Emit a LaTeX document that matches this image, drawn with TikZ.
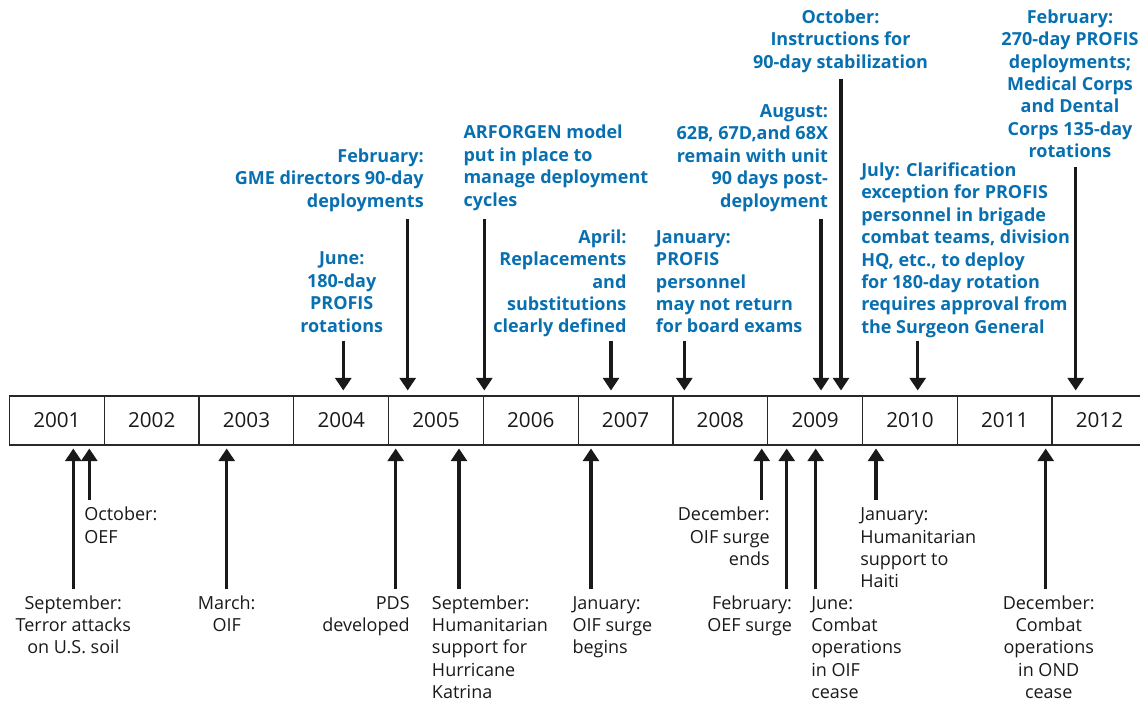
\documentclass[tikz,border=0pt]{standalone}
\usepackage{fontspec}
\setmainfont{Open Sans}
\usetikzlibrary{arrows.meta}
\definecolor{evblue}{RGB}{8,112,176}
\definecolor{barline}{RGB}{40,40,40}
\begin{document}
\begin{tikzpicture}[x=0.75pt,y=-0.75pt,
  cell/.style={draw=barline,line width=0.9pt,minimum width=71.1pt,minimum height=36.75pt,inner sep=0pt,
    font=\fontsize{15.5pt}{18pt}\selectfont,text=black!90},
  evtop/.style={inner sep=0pt,text=evblue,font=\fontsize{13.5pt}{16.8pt}\selectfont\bfseries},
  evbot/.style={inner sep=0pt,text=black!90,font=\fontsize{13.5pt}{16.7pt}\selectfont},
  evarrow/.style={line width=2.3pt,draw=black!90,-{Triangle[width=12pt,length=9.5pt]}}]
\useasboundingbox (0,0) rectangle (1140,702);
% timeline cells
\foreach \i/\yr in {0/2001,1/2002,2/2003,3/2004,4/2005,5/2006,6/2007,7/2008,8/2009,9/2010,10/2011,11/2012}{
  \node[cell] (c\yr) at ({56.9+94.78*\i},420.5) {\yr};
}
% ---------- top events ----------
\node[evtop,anchor=north,align=center] (jun04) at (341.7,248.9) {\strut June:\\180-day\\PROFIS\\rotations};
\node[evtop,anchor=north east,align=right] (feb05) at (424,146.3) {\strut February:\\GME directors 90-day\\deployments};
\node[evtop,anchor=north west,align=left] (arf06) at (463.3,122.9) {\strut ARFORGEN model\\put in place to\\manage deployment\\cycles};
\node[evtop,anchor=north east,align=right] (apr07) at (626.7,227.3) {\strut April:\\Replacements\\and\\substitutions\\clearly defined};
\node[evtop,anchor=north west,align=left] (jan08) at (655.7,227.3) {\strut January:\\PROFIS\\personnel\\may not return\\for board exams};
\node[evtop,anchor=north east,align=right] (aug09) at (828.3,101.6) {\strut August:\\62B, 67D,and 68X\\remain with unit\\90 days post-\\deployment};
\node[evtop,anchor=north,align=center] (oct09) at (840.5,7.3) {\strut October:\\Instructions for\\90-day stabilization};
\node[evtop,anchor=north west,align=left] (jul10) at (861,160.6) {\strut July: Clarification\\exception for PROFIS\\personnel in brigade\\combat teams, division\\HQ, etc., to deploy\\for 180-day rotation\\requires approval from\\the Surgeon General};
\node[evtop,anchor=north,align=center] (feb12) at (1070,7.3) {\strut February:\\270-day PROFIS\\deployments;\\Medical Corps\\and Dental\\Corps 135-day\\rotations};
% top arrow coordinates
\foreach \n/\x/\t in {jun04/343.3/340.7, feb05/407.7/219, arf06/484.3/219, apr07/611/340.7, jan08/684.3/340.7, aug09/821/219, oct09/841/79, jul10/917.7/340.7, feb12/1075.7/167.3}{
  \coordinate (\n s) at (\x,\t);
  \coordinate (\n e) at (\x,390.5);
}
\foreach \n in {jun04,feb05,arf06,apr07,jan08,aug09,oct09,jul10,feb12}{
  \draw[evarrow] (\n s) -- (\n e);
}
% ---------- bottom events ----------
\node[evbot,anchor=north,align=center] (sep01) at (73.3,593.4) {\strut September:\\Terror attacks\\on U.S. soil};
\node[evbot,anchor=north west,align=left] (oct01) at (84,504.9) {\strut October:\\OEF};
\node[evbot,anchor=north,align=center] (mar03) at (226.7,593.4) {\strut March:\\OIF};
\node[evbot,anchor=north east,align=right] (pds05) at (410,593.4) {\strut PDS\\developed};
\node[evbot,anchor=north west,align=left] (sep05) at (431.7,593.4) {\strut September:\\Humanitarian\\support for\\Hurricane\\Katrina};
\node[evbot,anchor=north west,align=left] (jan07) at (572.3,593.4) {\strut January:\\OIF surge\\begins};
\node[evbot,anchor=north east,align=right] (dec08) at (770,504.9) {\strut December:\\OIF surge\\ends};
\node[evbot,anchor=north east,align=right] (feb09) at (792.3,593.4) {\strut February:\\OEF surge};
\node[evbot,anchor=north west,align=left] (jun09) at (811,593.4) {\strut June:\\Combat\\operations\\in OIF\\cease};
\node[evbot,anchor=north west,align=left] (jan10) at (860,504.9) {\strut January:\\Humanitarian\\support to\\Haiti};
\node[evbot,anchor=north,align=center] (dec11) at (1048.7,593.4) {\strut December:\\Combat\\operations\\in OND\\cease};
% bottom arrow coordinates
\foreach \n/\x/\b in {sep01/73.3/589.3, oct01/89.3/500, mar03/226.7/589.3, pds05/395.7/589.3, sep05/459/589.3, jan07/591/589.3, dec08/761.7/500, feb09/786.7/589.3, jun09/815.7/589.3, jan10/876/500, dec11/1045.7/589.3}{
  \coordinate (\n s) at (\x,\b);
  \coordinate (\n e) at (\x,448.5);
}
\foreach \n in {sep01,oct01,mar03,pds05,sep05,jan07,dec08,feb09,jun09,jan10,dec11}{
  \draw[evarrow] (\n s) -- (\n e);
}
\end{tikzpicture}
\end{document}
